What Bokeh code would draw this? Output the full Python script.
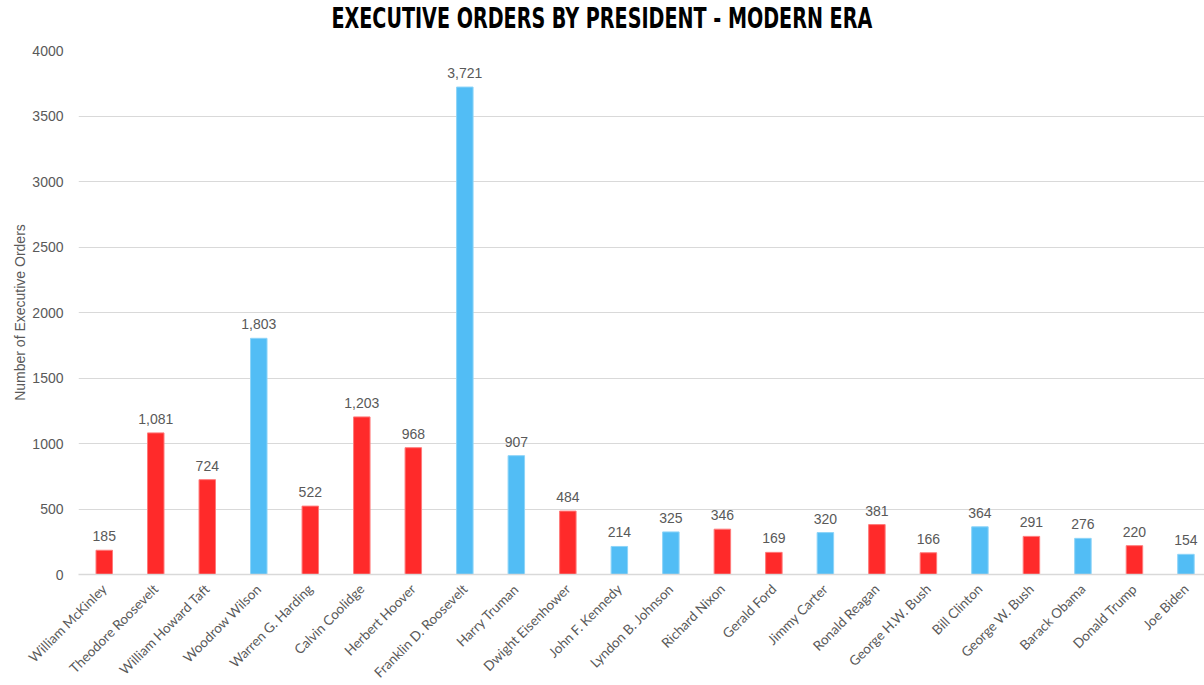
import math
from bokeh.plotting import figure
from bokeh.layouts import column
from bokeh.models import ColumnDataSource, FixedTicker, Range1d, Div
from bokeh.core.properties import value
from bokeh.embed import file_html
from bokeh.resources import INLINE

presidents = ["William McKinley", "Theodore Roosevelt", "William Howard Taft", "Woodrow Wilson",
              "Warren G. Harding", "Calvin Coolidge", "Herbert Hoover", "Franklin D. Roosevelt",
              "Harry Truman", "Dwight Eisenhower", "John F. Kennedy", "Lyndon B. Johnson",
              "Richard Nixon", "Gerald Ford", "Jimmy Carter", "Ronald Reagan", "George H.W. Bush",
              "Bill Clinton", "George W. Bush", "Barack Obama", "Donald Trump", "Joe Biden"]
orders = [185, 1081, 724, 1803, 522, 1203, 968, 3721, 907, 484, 214, 325, 346, 169, 320,
          381, 166, 364, 291, 276, 220, 154]
party = ["R", "R", "R", "D", "R", "R", "R", "D", "D", "R", "D", "D", "R", "R", "D", "R",
         "R", "D", "R", "D", "R", "D"]
y_ticks = [0, 500, 1000, 1500, 2000, 2500, 3000, 3500, 4000]
title_text = "EXECUTIVE ORDERS BY PRESIDENT - MODERN ERA"

party_colors = {"R": "#FF2A2A", "D": "#52BDF5"}
party_lines = {"R": "#FF7A7A", "D": "#8DD4F8"}

xs = list(range(len(presidents)))
src = ColumnDataSource(dict(
    x=xs, y=orders,
    color=[party_colors[p] for p in party],
    line=[party_lines[p] for p in party],
    label=[f"{v:,}" for v in orders],
))

title_div = Div(
    text=('<span style="display:inline-block;transform:scaleX(0.76);'
          'font-family:\'DejaVu Sans Condensed\';font-weight:bold;font-size:28px;'
          'line-height:38px;color:#000000;white-space:nowrap;">' + title_text + '</span>'),
    width=1204, height=40,
    styles={"text-align": "center", "margin": "0", "padding": "0"},
)

p = figure(width=1204, frame_height=524, output_backend="svg", toolbar_location=None,
           x_range=Range1d(-0.5, 21.36), y_range=Range1d(0, 4000),
           min_border_left=78, min_border_right=0, min_border_top=10, min_border_bottom=0)
p.outline_line_color = None
p.background_fill_color = "white"
p.border_fill_color = "white"

p.vbar(x="x", top="y", width=0.32, bottom=0, source=src, fill_color="color",
       line_color="line", line_width=1)
p.text(x="x", y="y", text="label", source=src, text_align="center", text_baseline="bottom",
       y_offset=-9, text_font=value("Liberation Sans"), text_font_size="14px",
       text_color="#595959")

p.xaxis.ticker = FixedTicker(ticks=xs)
p.xaxis.major_label_overrides = {i: n for i, n in zip(xs, presidents)}
p.xaxis.major_label_orientation = math.pi / 4
p.xaxis.major_label_text_font = "Lato"
p.xaxis.major_label_text_font_size = "13.5px"
p.xaxis.major_label_text_color = "#595959"
p.xaxis.axis_line_color = "#D9D9D9"
p.xaxis.axis_line_width = 1.5
p.xaxis.major_tick_line_color = None
p.xaxis.minor_tick_line_color = None
p.xaxis.major_label_standoff = 6

p.yaxis.ticker = FixedTicker(ticks=y_ticks)
p.yaxis.axis_line_color = None
p.yaxis.major_tick_line_color = None
p.yaxis.minor_tick_line_color = None
p.yaxis.major_label_standoff = 9
p.yaxis.major_label_text_font = "Liberation Sans"
p.yaxis.major_label_text_font_size = "14px"
p.yaxis.major_label_text_color = "#595959"
p.yaxis.axis_label = "Number of Executive Orders"
p.yaxis.axis_label_text_font = "Liberation Sans"
p.yaxis.axis_label_text_font_style = "normal"
p.yaxis.axis_label_text_font_size = "14px"
p.yaxis.axis_label_text_color = "#595959"
p.yaxis.axis_label_standoff = 1

p.xgrid.grid_line_color = None
p.ygrid.grid_line_color = "#D9D9D9"
p.ygrid.grid_line_width = 1

layout = column(title_div, p, spacing=0)
open("out.html", "w").write(file_html(layout, INLINE))
